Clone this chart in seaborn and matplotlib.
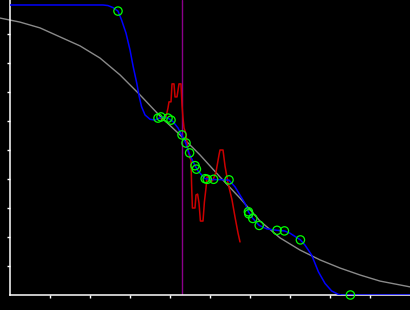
import matplotlib
matplotlib.use("Agg")
import matplotlib.pyplot as plt
import seaborn as sns
import pandas as pd

# Smoothed curve (blue)
blue_x = [0.0, 0.2325, 0.245, 0.2575, 0.27, 0.279, 0.29, 0.30, 0.308, 0.317, 0.323, 0.329,
          0.3375, 0.35, 0.3625, 0.371, 0.3825, 0.395, 0.4075, 0.42, 0.429, 0.439, 0.4475,
          0.4625, 0.47, 0.4875, 0.5075, 0.525, 0.5475, 0.5625, 0.5875, 0.596, 0.607, 0.623,
          0.642, 0.6675, 0.686, 0.70, 0.726, 0.7375, 0.754, 0.771, 0.7875, 0.804, 0.821,
          0.829, 1.0]
blue_y = [1.0, 1.0, 0.998, 0.991, 0.979, 0.948, 0.903, 0.845, 0.787, 0.730, 0.684, 0.649,
          0.621, 0.606, 0.603, 0.609, 0.614, 0.610, 0.598, 0.576, 0.552, 0.525, 0.489,
          0.446, 0.428, 0.401, 0.398, 0.398, 0.396, 0.373, 0.316, 0.287, 0.264, 0.240,
          0.228, 0.223, 0.221, 0.213, 0.190, 0.172, 0.138, 0.080, 0.040, 0.014, 0.002,
          0.0, 0.0]

# Observed points (green circles)
pts_x = [0.27, 0.37, 0.3775, 0.395, 0.4025, 0.43, 0.44, 0.449, 0.4625, 0.466, 0.488,
         0.493, 0.509, 0.5475, 0.596, 0.597, 0.607, 0.623, 0.6675, 0.686, 0.726, 0.851]
pts_y = [0.979, 0.610, 0.614, 0.610, 0.603, 0.552, 0.524, 0.49, 0.446, 0.434, 0.401,
         0.399, 0.399, 0.397, 0.287, 0.280, 0.264, 0.240, 0.223, 0.221, 0.190, 0.0]

# Jagged series (red)
red_x = [0.375, 0.3825, 0.39, 0.395, 0.3975, 0.4025, 0.405, 0.41, 0.4125, 0.4175, 0.4225,
         0.4275, 0.43, 0.4325, 0.435, 0.44, 0.4425, 0.445, 0.45, 0.4525, 0.454, 0.456,
         0.4625, 0.465, 0.469, 0.4725, 0.476, 0.4825, 0.486, 0.49, 0.4925, 0.4975, 0.5025,
         0.5075, 0.515, 0.5225, 0.525, 0.5325, 0.5375, 0.545, 0.555, 0.5625, 0.57, 0.575]
red_y = [0.610, 0.603, 0.614, 0.645, 0.666, 0.666, 0.728, 0.728, 0.683, 0.683, 0.728,
         0.728, 0.655, 0.610, 0.576, 0.555, 0.524, 0.5, 0.472, 0.466, 0.379, 0.3,
         0.3, 0.345, 0.348, 0.317, 0.255, 0.255, 0.321, 0.369, 0.407, 0.407, 0.39,
         0.397, 0.424, 0.483, 0.5, 0.5, 0.445, 0.386, 0.328, 0.269, 0.214, 0.183]

# Reference curve (gray)
gray_x = [-0.025, 0.025, 0.075, 0.125, 0.175, 0.225, 0.275, 0.325, 0.375, 0.425, 0.475,
          0.525, 0.575, 0.625, 0.675, 0.725, 0.775, 0.825, 0.875, 0.925, 1.0]
gray_y = [0.955, 0.941, 0.921, 0.890, 0.859, 0.817, 0.759, 0.690, 0.617, 0.552, 0.483,
          0.407, 0.334, 0.255, 0.197, 0.155, 0.121, 0.093, 0.069, 0.048, 0.028]

vline_x = 0.431
tick_vals = [0.1, 0.2, 0.3, 0.4, 0.5, 0.6, 0.7, 0.8, 0.9]

sns.set_style("dark")
fig = plt.figure(figsize=(4.1001, 3.1001), dpi=100, facecolor="black")
ax = fig.add_axes([10 / 410, 15 / 310, 400 / 410, 295 / 310])
ax.set_facecolor("black")

gray_df = pd.DataFrame({"x": gray_x, "y": gray_y})
blue_df = pd.DataFrame({"x": blue_x, "y": blue_y})
red_df = pd.DataFrame({"x": red_x, "y": red_y})
pts_df = pd.DataFrame({"x": pts_x, "y": pts_y})

sns.lineplot(data=gray_df, x="x", y="y", sort=False, estimator=None, color="#8a8a8a",
             lw=1.0, ax=ax, clip_on=False, zorder=2)
ax.axvline(vline_x, color="#8b008b", lw=1.0, zorder=2.2)
sns.lineplot(data=red_df, x="x", y="y", sort=False, estimator=None, color="#cc0000",
             lw=1.1, ax=ax, zorder=2.4)
sns.lineplot(data=blue_df, x="x", y="y", sort=False, estimator=None, color="#0000ff",
             lw=1.1, ax=ax, zorder=3)
sns.scatterplot(data=pts_df, x="x", y="y", s=36, facecolors="none", edgecolors="#00ff00",
                linewidths=0.9, ax=ax, zorder=4, clip_on=False)

ax.set_xlim(0, 1)
ax.set_ylim(0, 295 / 290)
ax.set_xticks(tick_vals)
ax.set_yticks(tick_vals)
ax.set_xticklabels([])
ax.set_yticklabels([])
ax.set_xlabel("")
ax.set_ylabel("")
ax.grid(False)
ax.tick_params(axis="both", direction="out", length=2.5, width=1.0, color="white",
               bottom=True, left=True)
for side in ["top", "right"]:
    ax.spines[side].set_visible(False)
for side in ["left", "bottom"]:
    ax.spines[side].set_visible(True)
    ax.spines[side].set_color("white")
    ax.spines[side].set_linewidth(1.1)

fig.savefig("out.png", dpi=100, facecolor="black")
